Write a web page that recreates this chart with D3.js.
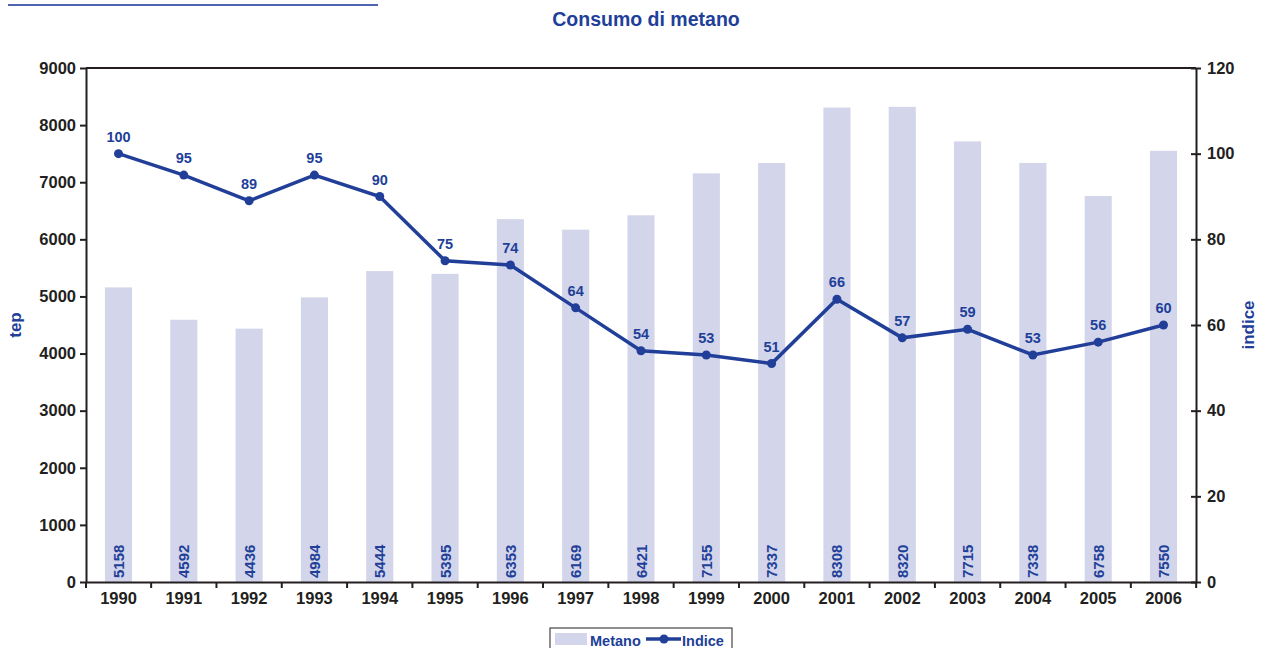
<!DOCTYPE html>
<html>
<head>
<meta charset="utf-8">
<script src="https://cdn.jsdelivr.net/npm/d3@7"></script>
<style>
  body { margin: 0; background: #fff; }
  svg { font-family: "Liberation Sans", Arial, sans-serif; }
  .axis text { font-size: 16.5px; font-weight: bold; fill: #231f20; }
  .axis path, .axis line { stroke: #231f20; stroke-width: 2px; }
</style>
</head>
<body>
<svg width="1266" height="648"></svg>
<script>
var years = ["1990","1991","1992","1993","1994","1995","1996","1997","1998","1999","2000","2001","2002","2003","2004","2005","2006"];
var metano = [5158,4592,4436,4984,5444,5395,6353,6169,6421,7155,7337,8308,8320,7715,7338,6758,7550];
var indice = [100,95,89,95,90,75,74,64,54,53,51,66,57,59,53,56,60];
var tepTicks = [0,1000,2000,3000,4000,5000,6000,7000,8000,9000];
var indiceTicks = [0,20,40,60,80,100,120];

var blue = "#213f99";
var barColor = "#d3d5ea";

var margin = { top: 68, right: 70, bottom: 66, left: 86 };
var svg = d3.select("svg");
var width = +svg.attr("width") - margin.left - margin.right;
var height = +svg.attr("height") - margin.top - margin.bottom;
var g = svg.append("g")
  .attr("transform", "translate(" + margin.left + "," + margin.top + ")");

// header rule from the page the chart was cut from
svg.append("line")
  .attr("x1", 8).attr("x2", 378).attr("y1", 5).attr("y2", 5)
  .attr("stroke", "#4f63b0").attr("stroke-width", 2);

svg.append("text")
  .attr("x", 646).attr("y", 26)
  .attr("text-anchor", "middle")
  .attr("font-size", 19.5).attr("font-weight", "bold").attr("fill", blue)
  .text("Consumo di metano");

var scaleX = d3.scaleBand().domain(years).range([0, width]).paddingInner(0.585).paddingOuter(0.29);
var scaleY = d3.scaleLinear().domain([0, 9000]).range([height, 0]);
var scaleY2 = d3.scaleLinear().domain([0, 120]).range([height, 0]);
var cx = function(y) { return scaleX(y) + scaleX.bandwidth() / 2; };

// bars
g.selectAll(".bar")
  .data(years)
  .enter().append("rect")
  .attr("class", "bar")
  .attr("x", function(d) { return scaleX(d); })
  .attr("width", scaleX.bandwidth())
  .attr("y", function(d, i) { return scaleY(metano[i]); })
  .attr("height", function(d, i) { return height - scaleY(metano[i]); })
  .attr("fill", barColor);

g.selectAll(".bar-label")
  .data(years)
  .enter().append("text")
  .attr("class", "bar-label")
  .attr("transform", function(d) { return "translate(" + (cx(d) + 5.5) + "," + (height - 4) + ") rotate(-90)"; })
  .attr("font-size", 15).attr("font-weight", "bold").attr("fill", blue)
  .text(function(d, i) { return metano[i]; });

// top border
g.append("line")
  .attr("x1", 0).attr("x2", width).attr("y1", 0).attr("y2", 0)
  .attr("stroke", "#231f20").attr("stroke-width", 2);

// axes
var step = scaleX.step();
var xAxis = g.append("g")
  .attr("class", "axis")
  .attr("transform", "translate(0," + height + ")")
  .call(d3.axisBottom(scaleX).tickSize(0).tickPadding(10));
xAxis.selectAll(".tick").append("line")
  .attr("x1", step / 2).attr("x2", step / 2).attr("y1", 0).attr("y2", 6);
xAxis.append("line").attr("x1", 0).attr("x2", 0).attr("y1", 0).attr("y2", 6);

g.append("g")
  .attr("class", "axis")
  .call(d3.axisLeft(scaleY).tickValues(tepTicks).tickFormat(d3.format("d"))
    .tickSize(6).tickPadding(4).tickSizeOuter(0));

var yAxis2 = g.append("g")
  .attr("class", "axis")
  .attr("transform", "translate(" + width + ",0)")
  .call(d3.axisRight(scaleY2).tickValues(indiceTicks).tickSize(5).tickPadding(6).tickSizeOuter(0));
yAxis2.selectAll(".tick line").attr("x1", -5);

// axis titles
svg.append("text")
  .attr("transform", "translate(21," + (margin.top + height / 2) + ") rotate(-90)")
  .attr("text-anchor", "middle")
  .attr("font-size", 17).attr("font-weight", "bold").attr("fill", blue)
  .text("tep");
svg.append("text")
  .attr("transform", "translate(1254," + (margin.top + height / 2) + ") rotate(-90)")
  .attr("text-anchor", "middle")
  .attr("font-size", 17).attr("font-weight", "bold").attr("fill", blue)
  .text("indice");

// line
var line = d3.line()
  .x(function(d) { return cx(d); })
  .y(function(d, i) { return scaleY2(indice[i]); });

g.append("path")
  .datum(years)
  .attr("fill", "none")
  .attr("stroke", blue)
  .attr("stroke-width", 3.5)
  .attr("d", line);

g.selectAll(".dot")
  .data(years)
  .enter().append("circle")
  .attr("cx", cx)
  .attr("cy", function(d, i) { return scaleY2(indice[i]); })
  .attr("r", 4.5)
  .attr("fill", blue);

g.selectAll(".dot-label")
  .data(years)
  .enter().append("text")
  .attr("x", cx)
  .attr("y", function(d, i) { return scaleY2(indice[i]) - 12; })
  .attr("text-anchor", "middle")
  .attr("font-size", 14.5).attr("font-weight", "bold").attr("fill", blue)
  .text(function(d, i) { return indice[i]; });

// legend
var legend = svg.append("g").attr("transform", "translate(550,628)");
legend.append("rect")
  .attr("x", 0).attr("y", 0).attr("width", 182).attr("height", 30)
  .attr("fill", "#fff").attr("stroke", "#231f20").attr("stroke-width", 1);
legend.append("rect")
  .attr("x", 5).attr("y", 5).attr("width", 32).attr("height", 12)
  .attr("fill", barColor);
legend.append("text")
  .attr("x", 40).attr("y", 17.5)
  .attr("font-size", 14.5).attr("font-weight", "bold").attr("fill", blue)
  .text("Metano");
legend.append("line")
  .attr("x1", 96).attr("x2", 131).attr("y1", 11).attr("y2", 11)
  .attr("stroke", blue).attr("stroke-width", 3.5);
legend.append("circle")
  .attr("cx", 114).attr("cy", 11).attr("r", 4.5).attr("fill", blue);
legend.append("text")
  .attr("x", 132).attr("y", 17.5)
  .attr("font-size", 14.5).attr("font-weight", "bold").attr("fill", blue)
  .text("Indice");
</script>
</body>
</html>
